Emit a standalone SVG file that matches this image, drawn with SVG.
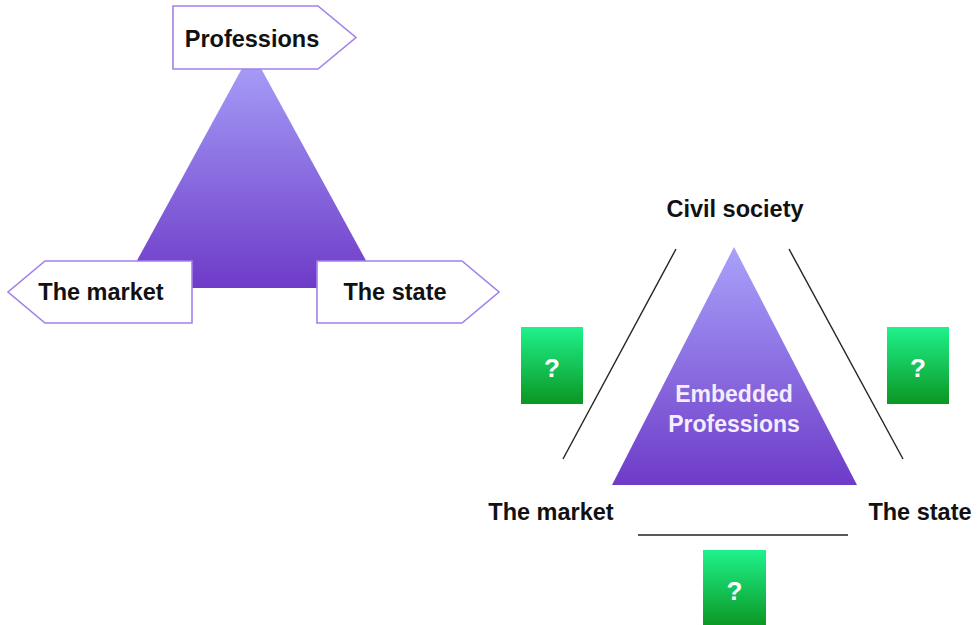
<svg xmlns="http://www.w3.org/2000/svg" width="979" height="625" viewBox="0 0 979 625">
  <defs>
    <linearGradient id="purple" x1="0" y1="0" x2="0" y2="1">
      <stop offset="0" stop-color="#a9a2fa"/>
      <stop offset="1" stop-color="#6e3bc8"/>
    </linearGradient>
    <linearGradient id="green" x1="0" y1="0" x2="0" y2="1">
      <stop offset="0" stop-color="#1ff28c"/>
      <stop offset="1" stop-color="#0b9622"/>
    </linearGradient>
    <style>
      .lbl { font-family: "Liberation Sans", Arial, sans-serif; font-weight: bold; font-size: 23.5px; fill: #111; text-anchor: middle; }
      .tag { fill: #fff; stroke: #a380ea; stroke-width: 1.6; }
      .q { font-family: "Liberation Sans", Arial, sans-serif; font-weight: bold; font-size: 26px; fill: #fff; text-anchor: middle; }
      .inner { font-family: "Liberation Sans", Arial, sans-serif; font-weight: bold; font-size: 23px; fill: #f3eeff; text-anchor: middle; }
      .rel { stroke: #222; stroke-width: 1.4; fill: none; }
    </style>
  </defs>

  <!-- Left panel: professions between market and state -->
  <g id="core-triangle">
    <polygon points="251.5,51 122,288 381,288" fill="url(#purple)"/>
  </g>
  <g id="professions">
    <polygon class="tag" points="173,6 318,6 356,37.5 318,69 173,69"/>
    <text class="lbl" x="252" y="47">Professions</text>
  </g>
  <g id="market-left">
    <polygon class="tag" points="192,261 45,261 8,292 45,323 192,323"/>
    <text class="lbl" x="101" y="300">The market</text>
  </g>
  <g id="state-left">
    <polygon class="tag" points="317,261 462,261 499,292 462,323 317,323"/>
    <text class="lbl" x="395" y="300">The state</text>
  </g>

  <!-- Right panel: embedded professions -->
  <g id="embedded">
    <polygon points="734,247 612,485 857,485" fill="url(#purple)"/>
    <text class="inner" x="734" y="402">Embedded</text>
    <text class="inner" x="734" y="432">Professions</text>
  </g>
  <g id="civil-society">
    <text class="lbl" x="735" y="217">Civil society</text>
  </g>
  <g id="market-right">
    <text class="lbl" x="551" y="520">The market</text>
  </g>
  <g id="state-right">
    <text class="lbl" x="920" y="520">The state</text>
  </g>

  <g id="connectors">
    <line class="rel" x1="676" y1="249" x2="563" y2="459"/>
    <line class="rel" x1="789" y1="249" x2="903" y2="459"/>
    <line class="rel" x1="638" y1="535" x2="848" y2="535"/>
  </g>

  <g id="q-left">
    <rect x="521" y="327" width="62" height="77" fill="url(#green)"/>
    <text class="q" x="552" y="377">?</text>
  </g>
  <g id="q-right">
    <rect x="887" y="327" width="62" height="77" fill="url(#green)"/>
    <text class="q" x="918" y="377">?</text>
  </g>
  <g id="q-bottom">
    <rect x="703" y="550" width="63" height="77" fill="url(#green)"/>
    <text class="q" x="734.5" y="600">?</text>
  </g>
</svg>
